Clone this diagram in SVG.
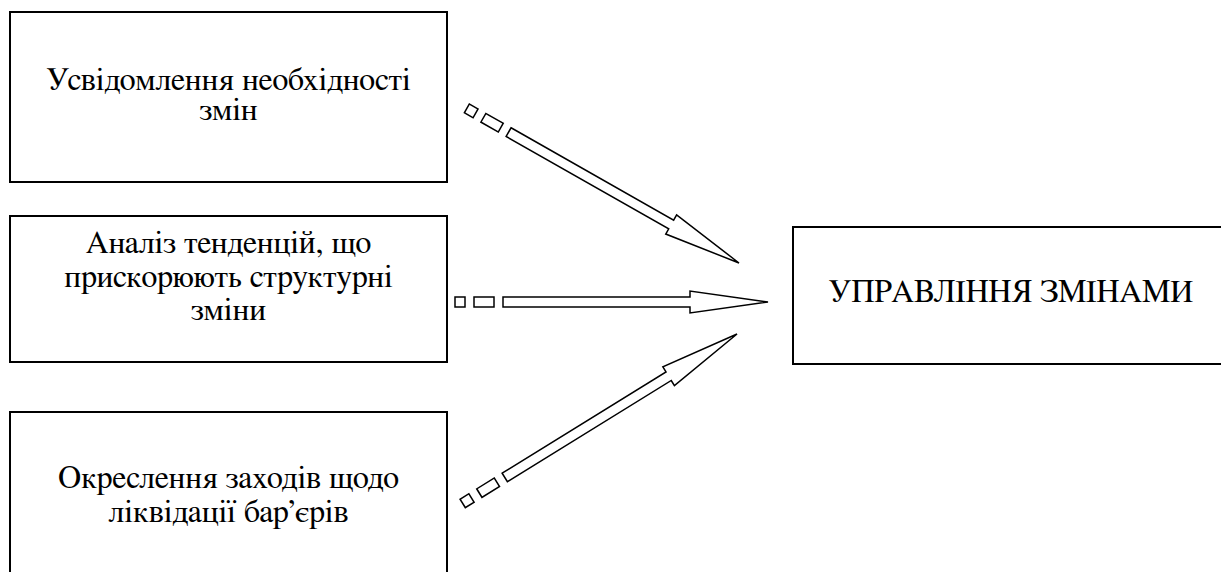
<svg xmlns="http://www.w3.org/2000/svg" width="1221" height="572" viewBox="0 0 1221 572">
  <style>
    .box { fill: #ffffff; stroke: #000000; stroke-width: 2; }
    .label { font-family: "FreeSerif", "Liberation Serif", "DejaVu Serif", serif; font-size: 32px; fill: #000000; text-anchor: middle; }
    .arrow { fill: #ffffff; stroke: #000000; stroke-width: 1.5; stroke-linejoin: miter; }
  </style>
  <defs>
    <!-- block arrow with two dashes at the tail; tip at origin, pointing along +x -->
    <g id="block-arrow">
      <rect class="arrow" x="-313" y="-5" width="10" height="10"/>
      <rect class="arrow" x="-294" y="-5" width="20" height="10"/>
      <path class="arrow" d="M -265 -5 L -78 -5 L -78 -11 L 0 0 L -78 11 L -78 5 L -265 5 Z"/>
    </g>
  </defs>

  <rect width="1221" height="572" fill="#ffffff"/>

  <g id="node-awareness">
    <rect class="box" x="10" y="12" width="437" height="170"/>
    <text class="label" x="228.5" y="90">Усвідомлення необхідності</text>
    <text class="label" x="228.5" y="120">змін</text>
  </g>

  <g id="node-analysis">
    <rect class="box" x="10" y="216" width="437" height="146"/>
    <text class="label" x="228.5" y="253">Аналіз тенденцій, що</text>
    <text class="label" x="228.5" y="287">прискорюють структурні</text>
    <text class="label" x="228.5" y="320">зміни</text>
  </g>

  <g id="node-barriers">
    <rect class="box" x="10" y="412" width="437" height="180"/>
    <text class="label" x="228.5" y="488">Окреслення заходів щодо</text>
    <text class="label" x="228.5" y="522">ліквідації бар’єрів</text>
  </g>

  <g id="node-change-management">
    <rect class="box" x="793" y="227" width="440" height="137"/>
    <text class="label" x="1011" y="302">УПРАВЛІННЯ ЗМІНАМИ</text>
  </g>

  <g id="connectors">
    <use href="#block-arrow" transform="translate(739 263) rotate(29.6)"/>
    <use href="#block-arrow" transform="translate(768 302)"/>
    <use href="#block-arrow" transform="translate(737 334) rotate(-31.7) scale(1.03 1)"/>
  </g>
</svg>
